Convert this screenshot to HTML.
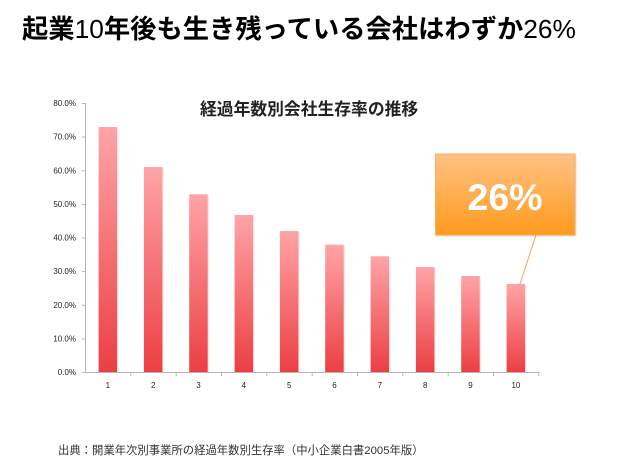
<!DOCTYPE html>
<html><head><meta charset="utf-8">
<style>
html,body{margin:0;padding:0;background:#fff;}
body{width:633px;height:472px;position:relative;overflow:hidden;font-family:"Liberation Sans","Noto Sans CJK JP",sans-serif;}
.t{position:absolute;white-space:nowrap;}
#title{left:22px;top:16px;font-size:26.3px;line-height:27px;font-weight:bold;color:#000;}
#title .n{font-weight:normal;}
#ctitle{left:200px;top:101px;font-size:16.8px;line-height:17px;font-weight:bold;color:#222;}
#foot{left:58px;top:443.5px;font-size:11.35px;line-height:14px;color:#333;}
</style></head><body>
<div class="t" id="title">起業<span class="n">10</span>年後も生き残っている会社はわずか<span class="n">26%</span></div>
<div class="t" id="ctitle">経過年数別会社生存率の推移</div>
<svg width="633" height="472" style="position:absolute;left:0;top:0" xmlns="http://www.w3.org/2000/svg">
<defs>
<linearGradient id="bg" x1="0" y1="0" x2="0" y2="1">
<stop offset="0" stop-color="#ffa4a7"/>
<stop offset="1" stop-color="#ec3f43"/>
</linearGradient>
<linearGradient id="og" x1="0" y1="0" x2="0" y2="1">
<stop offset="0" stop-color="#ffc285"/>
<stop offset="1" stop-color="#ff9a1c"/>
</linearGradient>
</defs>
<g font-family="Liberation Sans, sans-serif" font-size="8" fill="#222" text-anchor="end">
<text x="76" y="106">80.0%</text>
<text x="76" y="139.7">70.0%</text>
<text x="76" y="173.3">60.0%</text>
<text x="76" y="207">50.0%</text>
<text x="76" y="240.6">40.0%</text>
<text x="76" y="274.2">30.0%</text>
<text x="76" y="307.9">20.0%</text>
<text x="76" y="341.5">10.0%</text>
<text x="76" y="375">0.0%</text>
</g>
<g stroke="#b5b5b5" stroke-width="1">
<line x1="85.5" y1="103" x2="85.5" y2="372.5"/>
<line x1="82" y1="103.5" x2="85.5" y2="103.5"/>
<line x1="82" y1="137.1" x2="85.5" y2="137.1"/>
<line x1="82" y1="170.8" x2="85.5" y2="170.8"/>
<line x1="82" y1="204.4" x2="85.5" y2="204.4"/>
<line x1="82" y1="238" x2="85.5" y2="238"/>
<line x1="82" y1="271.6" x2="85.5" y2="271.6"/>
<line x1="82" y1="305.3" x2="85.5" y2="305.3"/>
<line x1="82" y1="338.9" x2="85.5" y2="338.9"/>
<line x1="82" y1="372.5" x2="539" y2="372.5"/>
<line x1="130.8" y1="372.5" x2="130.8" y2="376"/>
<line x1="176.2" y1="372.5" x2="176.2" y2="376"/>
<line x1="221.5" y1="372.5" x2="221.5" y2="376"/>
<line x1="266.8" y1="372.5" x2="266.8" y2="376"/>
<line x1="312.2" y1="372.5" x2="312.2" y2="376"/>
<line x1="357.5" y1="372.5" x2="357.5" y2="376"/>
<line x1="402.8" y1="372.5" x2="402.8" y2="376"/>
<line x1="448.2" y1="372.5" x2="448.2" y2="376"/>
<line x1="493.5" y1="372.5" x2="493.5" y2="376"/>
<line x1="538.8" y1="372.5" x2="538.8" y2="376"/>
</g>
<g fill="#000" fill-opacity="0.08">
<rect x="99.5" y="128" width="19" height="244"/>
<rect x="144.8" y="168" width="19" height="204"/>
<rect x="190.1" y="195.3" width="19" height="176.7"/>
<rect x="235.5" y="216" width="19" height="156"/>
<rect x="280.8" y="232" width="19" height="140"/>
<rect x="326.1" y="245.7" width="19" height="126.3"/>
<rect x="371.5" y="257.3" width="19" height="114.7"/>
<rect x="416.8" y="268" width="19" height="104"/>
<rect x="462.1" y="277" width="19" height="95"/>
<rect x="507.5" y="285" width="19" height="87"/>
</g>
<g fill="url(#bg)">
<rect x="98.6" y="127" width="18.5" height="245"/>
<rect x="143.9" y="167" width="18.5" height="205"/>
<rect x="189.2" y="194.3" width="18.5" height="177.7"/>
<rect x="234.6" y="215" width="18.5" height="157"/>
<rect x="279.9" y="231" width="18.5" height="141"/>
<rect x="325.2" y="244.7" width="18.5" height="127.3"/>
<rect x="370.6" y="256.3" width="18.5" height="115.7"/>
<rect x="415.9" y="267" width="18.5" height="105"/>
<rect x="461.2" y="276" width="18.5" height="96"/>
<rect x="506.6" y="284" width="18.5" height="88"/>
</g>
<g font-family="Liberation Sans, sans-serif" font-size="8" fill="#222" text-anchor="middle">
<text x="107.9" y="388">1</text>
<text x="153.2" y="388">2</text>
<text x="198.5" y="388">3</text>
<text x="243.9" y="388">4</text>
<text x="289.2" y="388">5</text>
<text x="334.5" y="388">6</text>
<text x="379.9" y="388">7</text>
<text x="425.2" y="388">8</text>
<text x="470.5" y="388">9</text>
<text x="515.9" y="388">10</text>
</g>
<line x1="536" y1="235" x2="520" y2="284" stroke="#f2a45c" stroke-width="1"/>
<rect x="437" y="155.5" width="139.5" height="81" fill="#000" fill-opacity="0.12"/>
<rect x="435.5" y="154" width="139.5" height="81" fill="url(#og)" stroke="#f6ad6a" stroke-width="1"/>
<text x="505" y="210" font-family="Liberation Sans, sans-serif" font-weight="bold" font-size="37.5" fill="#fff" text-anchor="middle">26%</text>
</svg>
<div class="t" id="foot">出典：開業年次別事業所の経過年数別生存率（中小企業白書2005年版）</div>
</body></html>
